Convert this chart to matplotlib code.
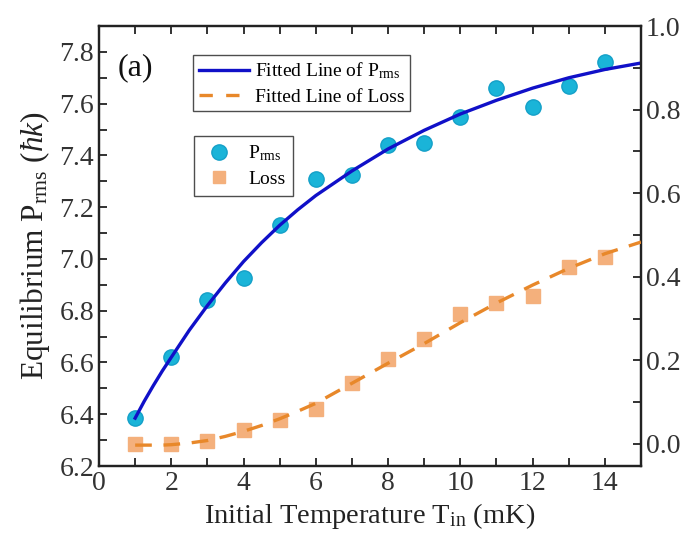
import matplotlib
matplotlib.use('Agg')
import matplotlib.pyplot as plt
from matplotlib.lines import Line2D
from matplotlib.ticker import MultipleLocator

plt.rcParams['font.family'] = ['Liberation Serif', 'DejaVu Serif']
plt.rcParams['mathtext.fontset'] = 'custom'
plt.rcParams['mathtext.rm'] = 'Liberation Serif'
plt.rcParams['mathtext.it'] = 'Liberation Serif:italic'

# measured points
temp = [1, 2, 3, 4, 5, 6, 7, 8, 9, 10, 11, 12, 13, 14]
p_rms = [6.385, 6.62, 6.84, 6.925, 7.13, 7.31, 7.325, 7.44, 7.448, 7.549,
         7.66, 7.587, 7.667, 7.76]
loss = [0.0, 0.0, 0.008, 0.033, 0.057, 0.084, 0.145, 0.203, 0.25, 0.311,
        0.337, 0.355, 0.423, 0.447]

# fitted curves
fit_x = [1, 1.25, 1.5, 1.75, 2, 2.5, 3, 3.5, 4, 4.5, 5, 5.5, 6, 7, 8, 9, 10,
         11, 12, 13, 14, 15]
fit_p = [6.385, 6.45, 6.51, 6.567, 6.62, 6.725, 6.82, 6.908, 6.99, 7.063,
         7.13, 7.19, 7.245, 7.34, 7.425, 7.497, 7.56, 7.613, 7.66, 7.70,
         7.732, 7.757]
fit_loss = [-0.003, -0.003, -0.003, -0.003, -0.002, 0.002, 0.008, 0.018, 0.03,
            0.044, 0.06, 0.078, 0.097, 0.145, 0.193, 0.24, 0.29, 0.337, 0.38,
            0.42, 0.455, 0.483]

blue = '#1010c8'
cyan = '#1ab4d8'
peach = '#f4b07c'
orange = '#e8882a'
txt = '#333333'

fig = plt.figure(figsize=(6.91, 5.42), dpi=100)
ax = fig.add_axes([0.1433, 0.1402, 0.7843, 0.8118])
ax2 = ax.twinx()

ax.plot(temp, p_rms, 'o', ms=11, color=cyan, mec='#14a0c8', mew=1, zorder=2)
ax.plot(fit_x, fit_p, '-', color=blue, lw=2.4, zorder=3)

ax2.plot(temp, loss, 's', ms=9.5, color=peach, mec=peach, zorder=2)
ax2.plot(fit_x, fit_loss, '--', color=orange, lw=2.4, dashes=(5, 3.5), zorder=3)

ax.set_xlim(0, 15)
ax.set_ylim(6.2, 7.9)
ax2.set_ylim(-0.053, 1.0)

ax.xaxis.set_major_locator(MultipleLocator(2))
ax.xaxis.set_minor_locator(MultipleLocator(1))
ax.yaxis.set_major_locator(MultipleLocator(0.2))
ax.yaxis.set_minor_locator(MultipleLocator(0.1))
ax2.yaxis.set_major_locator(MultipleLocator(0.2))
ax2.yaxis.set_minor_locator(MultipleLocator(0.1))

ax.tick_params(which='both', direction='in', top=True, right=False,
               labelsize=20, labelcolor=txt, width=1.3, color='#222222',
               length=5.5)
ax2.tick_params(which='both', direction='in', labelsize=20, labelcolor=txt,
                width=1.3, color='#222222', length=5.5)
ax.set_yticks([6.2, 6.4, 6.6, 6.8, 7.0, 7.2, 7.4, 7.6, 7.8])
ax.set_yticklabels(['6.2', '6.4', '6.6', '6.8', '7.0', '7.2', '7.4', '7.6', '7.8'])
ax2.set_yticks([0.0, 0.2, 0.4, 0.6, 0.8, 1.0])
ax2.set_yticklabels(['0.0', '0.2', '0.4', '0.6', '0.8', '1.0'])

for a in (ax, ax2):
    for s in a.spines.values():
        s.set_linewidth(1.6)
        s.set_color('#222222')

ax.set_xlabel(r'Initial Temperature T$_{\rm in}$ (mK)', fontsize=20.5,
              color='#222222', labelpad=4)
ax.set_ylabel(r'Equilibrium P$_{\rm rms}$ ($\hbar k$)', fontsize=22.5,
              color='#222222', labelpad=5)

ax.text(0.035, 0.905, '(a)', transform=ax.transAxes, fontsize=23,
        va='center', ha='left', color='#111111')

h1 = [Line2D([], [], color=blue, lw=2.4),
      Line2D([], [], color=orange, lw=2.4, ls='--', dashes=(4, 4))]
leg1 = ax2.legend(h1, [r'Fitted Line of P$_{\rm rms}$', 'Fitted Line of Loss'],
                  loc='upper left', bbox_to_anchor=(0.173, 0.935),
                  borderaxespad=0, fontsize=14, frameon=True, fancybox=False,
                  edgecolor='#222222', handlelength=2.6, handletextpad=0.3,
                  borderpad=0.3, labelspacing=0.35)
leg1.get_frame().set_linewidth(1.0)
ax2.add_artist(leg1)

h2 = [Line2D([], [], ls='none', marker='o', ms=11, color=cyan, mec='#14a0c8'),
      Line2D([], [], ls='none', marker='s', ms=9, color=peach)]
leg2 = ax2.legend(h2, [r'P$_{\rm rms}$', 'Loss'], loc='upper left',
                  bbox_to_anchor=(0.175, 0.75), borderaxespad=0, fontsize=14,
                  frameon=True, fancybox=False, edgecolor='#222222',
                  handlelength=1.8, handletextpad=0.6, borderpad=0.4,
                  labelspacing=0.35)
leg2.get_frame().set_linewidth(1.0)

fig.savefig('out.png', dpi=100)
